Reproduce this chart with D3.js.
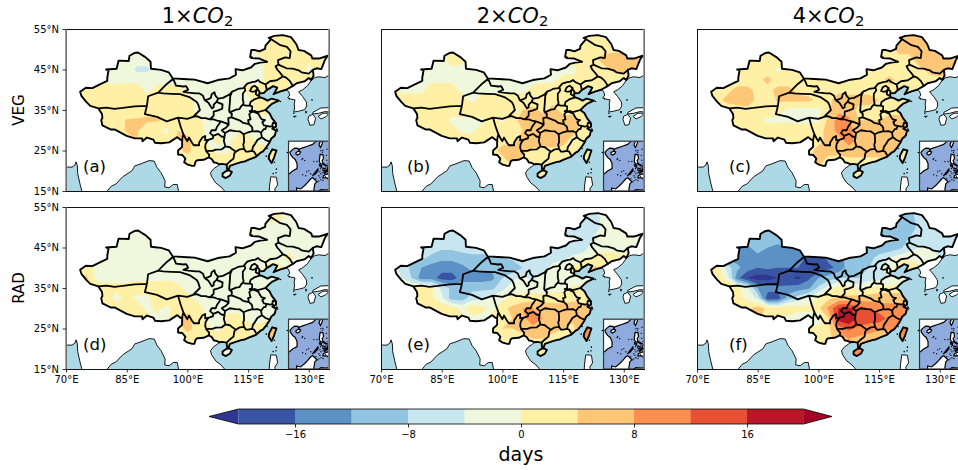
<!DOCTYPE html>
<html lang="en">
<head>
<meta charset="utf-8" />
<title>Growing season change, VEG and RAD</title>
<script src="https://d3js.org/d3.v7.min.js"></script>
<style>
  html, body { margin: 0; padding: 0; background: #fff; overflow: hidden; }
  svg { display: block; }
  text { font-family: "DejaVu Sans", sans-serif; fill: #000; }
  .tick text { font-size: 10px; }
  .tick line { stroke: #000; stroke-width: 0.8; }
</style>
</head>
<body>
<script>
// grid the fields were read on (degrees)
var gridLons = d3.range(26).map(function(i){ return 72.5 + i * 2.5; });
var gridLats = d3.range(16).map(function(i){ return 55 - i * 2.5; });

// days, one row per latitude from 55N down to 17.5N, west to east
var veg1 = [
[-1,-1,-1,-1,-1, -1,-1,-1,-1,-1, -1,-1,-1,-1,-1, -1,-1,-1,1,1, 1,1,1,1,1,1],
[-1,-1,-1,-1,-1, -1,-1,-1,-1,-1, -1,-1,-1,-1,-1, -1,-1,1,2,2, 2,2,2,2,2,2],
[-1,-1,-1,-1,-1, -1,-1,-1,-1,-1, -1,-1,-1,-1,-1, -1,-1,-1,1,2, 2,2,2,2,2,2],
[-1,-1,-1,-1,-1, -1,-2,-2,-2,-1, -1,-1,-1,-1,-1, -1,-1,1,-1,1, 2,1,2,1,2,2],
[-1,-1,-1,-1,-1, -1,-5,-5,-2,-1, -1,-1,-1,-1,-1, -1,-1,-1,-1,1, 2,2,2,-1,1,2],
[1,1,-1,-1,-1, -1,-1,-1,-1,-1, -1,-1,-1,-1,-1, -1,-1,-1,-1,1, 2,2,2,2,1,1],
[2,2,2,2,1, 2,2,-1,1,1, 1,-1,-1,-1,-1, -1,-1,1,1,2, 2,1,1,1,1,1],
[2,2,3,3,2, 1,1,1,2,2, 2,2,-1,-1,-1, -1,-1,-1,2,2, 1,1,1,1,1,1],
[2,2,2,2,2, 2,3,3,3,3, 2,2,-1,-1,-1, -1,-1,-1,1,1, 1,1,1,1,1,1],
[2,2,2,2,3, 4.2,4.2,4.5,4.5,3, 2,1,1,-1,-1, -1,-1,-1,-1,-1, -1,-1,-1,-1,-1,-1],
[2,2,2,2,2, 4.5,4.5,2,1,-1, 4,3,2,-1,-1, -1,-1,-1,-1,-1, -1,-1,-1,-1,-1,-1],
[2,2,2,2,2, 2,4,2,1,1, 4,5,2,-1,1, -1,2,2,-1,-1, 1,1,1,1,1,1],
[2,2,2,2,2, 2,2,2,2,2, 3,5,2,1,-1, -1,2,2,2,1, 1,1,1,1,1,1],
[2,2,2,2,2, 2,2,2,2,2, 2,2,2,2,2, 3,3,3,2,2, 2,2,2,2,2,2],
[-1,-1,-1,-1,-1, -1,-1,-1,-1,-1, -1,-1,-1,-1,-1, -1,-1,-1,-1,-1, -1,-1,-1,-1,-1,-1],
[-1,-1,-1,-1,-1, -1,-1,-1,-1,-1, -1,-1,-1,-1,-1, -1,-1,-1,-1,-1, -1,-1,-1,-1,-1,-1]
];
var veg2 = [
[-1,-1,-1,-1,-1, -1,-1,-1,-1,-1, -1,-1,-1,-1,-1, -1,-1,-1,2,2, 2,2,2,2,2,2],
[-1,-1,-1,-1,-1, -1,-1,-1,-1,-1, -1,-1,-1,-1,-1, -1,-1,1,2,3, 3,3,3,3,3,3],
[-1,-1,-1,-1,-1, -1,-1,-1,-1,-1, -1,-1,-1,-1,-1, -1,-1,-1,1,2, 3,3,3,3,3,3],
[-1,-1,-1,-1,-1, -1,2,1,-1,-1, -1,-1,-1,-1,-1, -1,-1,1,1,2, 3,5,6,6,5,3],
[-1,-1,-1,-1,-1, -1,-1,-1,-1,-1, -1,-1,-1,-1,-1, -1,-1,-1,-1,2, 3,3,4.5,4.5,4.5,3],
[1,1,-1,-1,-1, -1,-1,-1,-1,-1, -1,-1,-1,-1,-1, -1,-1,1,1,3, 3,3,3,3,3,3],
[2,-1,-1,-1,2, 2,2,-1,-1,-1, -1,-1,-1,-1,1, 2,2,3,3,3, 3,3,3,3,3,3],
[2,2,2,2,2, 2,2,2,-1,2, 2,2,2,2,2, 3,3,3,3,3, 3,3,3,3,3,3],
[2,2,2,2,2, 2,2,3,3,3, 3,3,2,4,5, 3,5,3,3,3, 3,3,3,3,3,3],
[2,2,2,2,2, 2,-1,-1,-1,-1, 3,-1,3,5,6, 6,6,5,5,3, 3,3,3,3,3,3],
[2,2,2,2,2, 2,2,-1,-1,2, 3,2,3,4,5, 6,6,4,5,3, 3,3,3,3,3,3],
[2,2,2,2,3, 3,3,3,2,2, 3,3,3,5,6, 6.5,6.5,5,3,3, 3,3,3,3,3,3],
[3,3,3,3,3, 3,3,3,3,3, 3,5,6,5,3, 3,3,3,3,3, 3,3,3,3,3,3],
[3,3,3,3,3, 3,3,3,3,3, 3,3,5,3,3, 3,3,3,3,3, 3,3,3,3,3,3],
[3,3,3,3,3, 3,3,3,3,3, 3,3,3,3,3, 3,3,3,3,3, 3,3,3,3,3,3],
[3,3,3,3,3, 3,3,3,3,3, 3,3,3,3,3, 3,3,3,3,3, 3,3,3,3,3,3]
];
var veg4 = [
[2,2,2,2,2, 2,2,2,2,2, 2,2,2,2,2, 2,2,2,4,4, 5,5,5,5,5,5],
[2,2,2,2,2, 2,2,2,2,2, 2,2,2,2,2, 2,2,2,4,5, 5,5,5,5,5,5],
[2,2,2,2,2, 2,2,2,2,2, 2,2,2,2,2, 2,2,2,3,5, 5,5,5,5,5,5],
[2,2,2,2,2, 2,2,2,2,2, 2,2,2,2,2, 2,2,2,3,3, 3,6,6,6,6,5],
[2,2,2,2,2, 2,2,-1,2,2, 2,2,2,2,2, 2,2,2,2,3, 3,3,5,6,5,3],
[2,2,2,2,2, 3,5,2,2,2, 2,2,2,2,2, 2,3,3,5,3, 3,3,3,3,3,3],
[2,3,3,5,5, 3,3,5,5,3, 2,3,4,3,3, 3,3,3,3,3, 3,3,3,3,3,3],
[3,3,5,6,6, 3,2,4.5,5,5, 5,3,3,6,5, 5,5,4,3,3, 3,3,3,3,3,3],
[2,2,2,2,3, 3,3,2,-1,-1, -1,-1,3,7,6, 3,3,3,3,3, 3,3,3,3,3,3],
[2,2,2,2,2, 1,-1,-1,-1,-1, -1,-1,5,10,9, 4,4,4,5,5, 5,5,5,5,5,5],
[2,2,2,2,3, 2,2,3,3,2, 2,3,5,10,9, 6,6,6,5,5, 5,5,5,5,5,5],
[2,2,2,2,2, 2,3,2,2,2, 3,3,5,6,10, 7,7,6,8,6, 5,5,5,5,5,5],
[3,3,3,3,3, 3,3,3,3,3, 3,5,5,5,6, 6,6,6,7,3, 3,3,3,3,3,3],
[3,3,3,3,3, 3,3,3,3,3, 3,5,3,3,3, 3,3,3,3,3, 3,3,3,3,3,3],
[3,3,3,3,3, 3,3,3,3,3, 3,3,3,3,3, 3,3,3,3,3, 3,3,3,3,3,3],
[3,3,3,3,3, 3,3,3,3,3, 3,3,3,3,3, 3,3,3,3,3, 3,3,3,3,3,3]
];
var rad1 = [
[-1,-1,-1,-1,-1, -1,-1,-1,-1,-1, -1,-1,-1,-1,-1, -1,-1,-1,-1,-1, -1,-1,-1,-1,-1,-1],
[-1,-1,-1,-1,-1, -1,-1,-1,-1,-1, -1,-1,-1,-1,-1, -1,-1,-1,-1,1, 1,-1,-1,-1,-1,-1],
[-1,-1,-1,-1,-1, -1,-1,-1,-1,-1, -1,-1,-1,-1,-1, -1,-1,-1,-1,-1, -1,-1,-1,-1,-1,-1],
[-1,-1,-1,-1,-1, -1,-1,-1,-1,-1, -1,-1,-1,-1,-1, -1,-1,-1,-1,-1, -1,-1,-1,-1,-1,-1],
[-1,-1,-1,-1,-1, -1,-2,-3,-5,-1, -1,-1,-1,-1,-1, -1,-1,-1,-1,-1, -1,-1,-1,-1,-1,-1],
[-1,-1,-1,-1,-1, -1,-1,-1,-1,-1, -1,-1,-1,-1,-1, -1,-1,-1,-1,-1, -1,1,-1,-1,-1,-1],
[1,2,-1,-1,-1, -1,-1,-1,-1,-1, -1,-1,-1,-1,-1, -1,-1,-1,-1,1, 1,-1,-1,-1,-1,-1],
[2,5,-1,-1,-1, -1,-1,-1,-1,-1, -1,-1,-1,-1,-1, -1,-1,-1,-1,-1, -1,-1,-1,-1,-1,-1],
[1,3,2,1,1, 1,3,2,2,3, 1,-1,-1,-1,-1, -1,-1,-1,-1,-1, -1,-1,-1,-1,-1,-1],
[1,2,2,1,-1, 1,-1,-1,2,2, 1,1,-1,-1,-1, -1,-1,-1,-1,-1, -1,-1,-1,-1,-1,-1],
[2,2,1,1,2, 3,3,-1,1,-1, 2,3,2,-1,-1, -1,-1,-1,-1,-1, -1,-1,-1,-1,-1,-1],
[2,2,2,2,2, 2,3,2,-1,-1, 4,5,2,-1,-1, 1,1,-1,-1,-1, -1,-1,-1,-1,-1,-1],
[2,2,2,2,2, 2,2,2,2,2, 2,5,3,1,-1, 1,2,2,1,5, 5,1,1,1,1,1],
[2,2,2,2,2, 2,2,2,2,2, 2,2,2,1,2, 2,2,2,2,6, 6,2,2,2,2,2],
[-1,-1,-1,-1,-1, -1,-1,-1,-1,-1, -1,-1,-1,-1,-1, -1,-1,-1,-1,-1, -1,-1,-1,-1,-1,-1],
[-1,-1,-1,-1,-1, -1,-1,-1,-1,-1, -1,-1,-1,-1,-1, -1,-1,-1,-1,-1, -1,-1,-1,-1,-1,-1]
];
var rad2 = [
[-6,-6,-6,-6,-6, -6,-6,-6,-6,-6, -6,-6,-6,-6,-6, -6,-6,-6,-6,-6, -2,-2,-2,-2,-2,-2],
[-6,-6,-6,-6,-6, -6,-6,-6,-6,-6, -6,-6,-6,-6,-6, -6,-6,-6,-7,-6, -6,-3,-2,-2,-2,-2],
[-6,-6,-6,-6,-6, -6,-6,-6,-6,-6, -6,-6,-6,-6,-6, -6,-6,-6,-7,-7, -6,-3,-2,-2,-2,-2],
[-6,-6,-6,-6,-6, -6,-6,-6,-6,-6, -6,-6,-6,-6,-6, -6,-7,-7,-7,-7, -4,-2,-2,-2,-2,-2],
[-6,-6,-6,-6,-6, -7,-7,-6,-6,-6, -6,-6,-6,-6,-6, -6,-6,-6,-7,-6, -2,-2,-2,-2,-2,-2],
[-6,-6,-6,-7,-9, -11,-11,-10,-9,-9, -9,-8,-7,-6,-6, -6,-5,-5,-3,-2, 1,2,2,1,1,1],
[-2,-5,-9,-12,-14, -14,-14,-13,-11,-11, -11,-11,-11,-8,-6, -5,-3,-1,1,4, 5,3,2,1,1,1],
[-1,-4,-8,-14,-14, -18,-18,-14,-14,-14, -13,-8,-5,-3,-5, -3,-1,-2,-2,-1, -1,-1,-1,-1,-1,-1],
[1,1,1,2,0.5, -5,-9,-9,-9,-9, -9,-5,-2,-1,-2, -2,-1,-1,0.5,0.5, 1,1,1,1,1,1],
[1,1,2,3,1, -3,-10,-10,-6,-5, -3,-1,1,1,2, 2,1,2,3,2, 2,2,2,2,2,2],
[3,3,3,3,2, 3,2,-1,3,1, -1,3,5,8,8, 7,7,6,6,6, 6,6,6,6,6,6],
[3,3,3,3,3, 3,1,1,-1,-1, 1,3,4,7,10, 8,7,7,5,4, 4,4,4,4,4,4],
[3,3,3,3,3, 3,3,3,3,3, 2,4,4,5,7, 7,5,4,3,9, 9,3,3,3,3,3],
[3,3,3,3,3, 3,3,3,3,3, 3,2,3,3,4, 4,3,3,3,9, 9,3,3,3,3,3],
[2,2,2,2,2, 2,2,2,2,2, 2,2,2,2,2, 2,2,2,2,2, 2,2,2,2,2,2],
[2,2,2,2,2, 2,2,2,2,2, 2,2,2,2,2, 2,2,2,2,2, 2,2,2,2,2,2]
];
var rad4 = [
[-10,-10,-10,-10,-10, -10,-10,-10,-10,-10, -10,-10,-10,-10,-10, -10,-10,-10,-10,-10, -8,-8,-8,-8,-8,-8],
[-10,-10,-10,-10,-10, -10,-10,-10,-10,-10, -10,-10,-10,-10,-10, -10,-10,-10,-10,-10, -9,-7,-6,-6,-6,-6],
[-10,-10,-10,-10,-10, -10,-10,-10,-10,-10, -10,-10,-10,-10,-10, -10,-10,-10,-11,-10, -10,-7,-6,-6,-6,-6],
[-10,-10,-10,-10,-10, -9,-8,-10,-10,-10, -10,-10,-10,-10,-10, -10,-10,-11,-11,-10, -8,-5,-7,-8,-8,-8],
[-12,-12,-12,-12,-13, -9,-12,-13,-12,-12, -11,-11,-11,-11,-11, -11,-10,-10,-11,-9, -6,-4,-4,-5,-5,-5],
[-10,-11,-12,-14,-14, -14,-16,-13,-14,-14, -17,-18,-15,-13,-11, -9,-9,-7,-4,-2, -1,-2,-4,-4,-4,-4],
[-1,2,-6,-11,-14, -16,-15,-16,-16,-16, -20,-20,-17,-15,-10, -9,-8,-5,-2,3, 3,1,-1,-1,-1,-1],
[3,3,-2,-15,-20, -22,-22,-20,-19,-21, -17,-12,-10,-8,-8, -8,-6,-6,-4,-2, -2,-2,-2,-2,-2,-2],
[3,6,6,1,-3, -12,-14,-15,-15,-14, -13,-7,-2,2,1, -1,0.5,2,1,1, 1,1,1,1,1,1],
[3,3,4,2,-1, -5,-19,-18,-10,-6, -3,0.5,3,5,5, 6,6,6,7,7, 7,7,7,7,7,7],
[3,3,3,3,3, 6,3,1,3,2, 1,3,9,16,17, 13,12,10,9,9, 9,9,9,9,9,9],
[3,3,3,3,5, 5,2,1,-1,-3, -2,-4,4,18,20, 15,14,14,11,8, 8,8,8,8,8,8],
[3,3,3,3,3, 3,3,3,3,3, 0.5,2,3,10,13, 11,10,9,9,11, 11,9,9,9,9,9],
[3,3,3,3,3, 3,3,3,3,3, 3,2,3,6,8, 7,6,5,4,11, 11,4,4,4,4,4],
[8,8,8,8,8, 8,8,8,8,8, 8,8,8,8,8, 9,8,8,8,8, 8,8,8,8,8,8],
[8,8,8,8,8, 8,8,8,8,8, 8,8,8,8,8, 9,8,8,8,8, 8,8,8,8,8,8]
];

var panelFields = [veg1, veg2, veg4, rad1, rad2, rad4];
var panelTags = ["(a)", "(b)", "(c)", "(d)", "(e)", "(f)"];
var columnMultiples = ["1", "2", "4"];
var rowNames = ["VEG", "RAD"];

var levels = [-20, -16, -12, -8, -4, 0, 4, 8, 12, 16, 20];
var bandColors = ["#313695", "#3a54a4", "#5b91c4", "#91c4e0", "#c7e6f0", "#eff8dc",
                  "#fff0a6", "#fec777", "#fc8f50", "#e85034", "#bb1627", "#a50026"];
var colorbarTicks = [-16, -8, 0, 8, 16];
var lonTicks = [70, 85, 100, 115, 130];
var latTicks = [15, 25, 35, 45, 55];

// china land border, Dandong clockwise round to Dongxing
var chinaBorder = [[124.4,40],[126,40.9],[127,41.6],[128.1,41.9],[129,42.1],[130,42.9],[130.6,42.4],[131.2,43.5],[131,44.9],[131.9,45.3],[133.1,45.1],[134,47.4],[134.7,48.4],[132.5,47.7],[130.9,47.7],[130.6,48.5],[128.8,49.6],[127.5,49.8],[126.9,51.3],[125.6,53],[123.6,53.5],[121.5,53.3],[120.1,52.8],[120.7,52.5],[119.3,50.9],[119.2,50.1],[117.8,49.5],[116.7,49.8],[115.8,49.8],[115.5,48.1],[116,48],[115.8,47.8],[117.8,47.7],[119.7,46.9],[118,46.7],[116.7,46.4],[115.7,45.5],[113.6,44.8],[111.9,45.1],[112,43.7],[110.4,42.8],[107.5,42.4],[105,41.6],[101.8,42.5],[100,42.6],[96.4,42.8],[95.4,44.3],[93.5,44.9],[91,45.2],[90.9,46.9],[89.7,48],[87.8,49.2],[87,49.1],[85.7,48.4],[85.5,47.1],[83,47.2],[82.5,45.2],[79.9,45],[80.5,44.7],[80.2,43],[80.2,42.2],[78.5,41.4],[76.5,40.4],[74.9,40.5],[73.5,39.5],[73.8,38.5],[75,37],[76,36],[78,35.4],[78.9,34],[79,33],[78.7,32.5],[79,31.2],[81,30.2],[82,30.2],[85,28.6],[87,28],[88.8,28],[88.9,27.3],[90,28.2],[91.6,27.7],[92,26.9],[93.5,26.8],[95.5,27],[97.5,28.3],[98.2,27.7],[98.7,27.5],[98.7,25.9],[97.7,25],[97.7,24],[98.7,23.9],[99.5,23],[99.2,22.1],[100.1,21.5],[101.2,21.2],[101.7,21.2],[102.1,22.4],[102.5,22.6],[104,22.7],[105.3,23.3],[106,22.9],[106.6,22],[107,22],[108,21.6]];
// china coast, Dongxing north to Dandong
var chinaCoast = [[108,21.6],[108.6,21.7],[109.7,21.5],[109.8,20.4],[110.2,20.3],[110.5,21.2],[111.9,21.7],[113.5,22.2],[114.2,22.3],[115.3,22.8],[116.9,23.4],[118,24.4],[118.7,24.8],[119.6,25.9],[120.3,27],[120.7,27.9],[121.6,28.7],[121.9,29.9],[121,30.4],[121.9,30.9],[121.9,31.7],[120.9,33],[120.3,34.2],[119.3,35],[120.3,36],[121,36.6],[122.6,37.3],[120.8,37.8],[119.8,37.3],[118.9,37.8],[118,38.1],[117.7,38.5],[117.8,39.1],[118.9,39.2],[119.6,39.9],[121.2,40.9],[122.2,40.5],[121.7,39.5],[121.3,38.9],[123,39.6],[124.4,40]];
var taiwan = [[121,25.3],[122,25],[121.4,23.2],[120.8,21.9],[120.1,23],[120.2,23.8],[121,25.3]];
var hainan = [[110.3,20.1],[111,19.7],[110.5,18.8],[109.5,18.2],[108.7,18.6],[108.7,19.3],[109.5,19.9],[110.3,20.1]];

// rest of the mainland, from the Indian west coast round to the Korean coast
var coastToChina = [[68,24],[69,22.3],[70.3,20.9],[71.5,20.9],[72.2,21.4],[72.5,22.2],[72.8,21.2],[72.9,19.3],[73.4,17],[73.9,15],[73.9,14],[80,14],[80.2,15],[81.2,16.2],[82.3,16.7],[84,18.5],[86.3,20],[87,21.2],[88.5,21.7],[90.5,22.5],[91.8,22.4],[92.5,20.8],[93.5,19.5],[94.5,17.5],[94.4,16],[95.5,15.8],[96.5,16.6],[97.5,16.6],[97.8,15],[98,14],[109.3,14],[109.2,15],[108.3,16],[107,17],[106,18.5],[105.7,19.5],[106.5,20.5],[107.5,21.2]];
var coastFromChina = [[125,39.6],[125.3,38.7],[124.8,38],[125.5,37.7],[126.6,37.5],[126.4,36.5],[126.5,35.5],[126.3,34.5],[127.5,34.7],[129,35.1],[129.5,36],[129.4,37],[128.5,38.3],[127.5,39.5],[128.5,40],[129.7,41],[130.6,42.3],[131.5,43],[132.5,43.2],[134,43],[135,43.6],[136,44.5],[136,56],[68,56]];
var otherIslands = [
  [[136,35.6],[133,35.5],[131,34.4],[131,34],[132.5,34.2],[134,34.6],[136,34.4]],
  [[130,33.5],[131,33.9],[131.7,33],[131.3,31.4],[130.3,31.2],[129.8,32.7]],
  [[132.3,33.4],[133.5,34.2],[135,34.2],[134.2,33.3],[133,32.8]],
  [[120.6,18.5],[122,18.4],[122.3,16.5],[121.6,15.5],[121.9,14],[120.2,14],[120.3,16.2]],
  [[126.2,33.4],[126.9,33.5],[126.6,33.2]],
  [[129.2,34.7],[129.5,34.6],[129.3,34.2]]
];
var smallIslands = [[122.2,30.1],[122.3,29.8],[122.1,30.3],[121.3,28.3],[119.7,25.5],[119.5,23.6],[121.5,22.1],[122,20.4],[121.9,19.5],[121.2,19.3],[124.7,24.5],[128,26.6],[123,37.1],[125.2,37.8],[126.3,34.2],[130.8,37.5]];

// internal province boundaries
var provinceLines = [
  [[78,35.4],[80,35.6],[82,35.3],[84,35.5],[87,35.9],[90,36]],
  [[90,36],[90.3,38.4],[92.8,39.3],[94,39.1],[96,39],[98.2,38.9],[100.5,38.2],[102.3,37],[102.7,36.3],[103.1,35],[101.4,33.3]],
  [[92.8,39.3],[94,40.5],[95,41.5],[96.5,42.7]],
  [[90,36],[89.5,34],[92.5,33.3],[94.9,32.2],[97.7,33.1]],
  [[97.7,33.1],[98.3,31],[99,29],[98.8,28.2],[98.7,27.5]],
  [[97.7,33.1],[100,32.8],[101.4,33.3],[102.3,33.5],[103.5,33],[104.5,33],[105.5,32.7]],
  [[96.5,42.7],[97.2,41],[99,40.8],[99.7,40.9],[100.2,40],[99,39.5],[100.3,39.3],[102,39.1],[103,39.1],[103.8,38.6],[104.3,37.4]],
  [[104.3,37.4],[105,37.6],[105.8,38],[106,38.9],[106.7,39.4],[106.9,38.6],[107.3,38.1],[107.6,37.8],[107.2,37],[106.5,36.3],[106.5,35.7],[106.1,35.4],[105.7,36],[105.2,36.8],[104.3,37.4]],
  [[107.2,37],[108.7,36.4],[108.6,35.3],[107.6,34.9],[106.5,34.6],[106.5,33.6],[105.8,32.9],[105.5,32.7]],
  [[107.6,37.8],[108.8,38],[110.5,38.9],[111.1,39.6]],
  [[111.1,39.6],[110.6,38.5],[110.5,37],[110.4,35.7],[110.3,34.6]],
  [[111.1,39.6],[111.5,39.7],[112.5,40.2],[113.8,40.4],[114.1,40.7]],
  [[114.1,40.7],[114.3,39.8],[113.7,39],[113.7,37.5],[113.9,36.8],[113.7,36.3]],
  [[113.7,36.3],[113.2,35.8],[112.9,35.2],[112,35.1],[110.9,34.6],[110.3,34.6]],
  [[114.1,40.7],[114.8,41.5],[116,41.9],[116.8,42],[117.5,42.4],[118,41.9],[119.3,41.3]],
  [[119.3,41.3],[119.5,40.6],[119.6,39.9]],
  [[119.3,41.3],[120.4,42.1],[122,42.3],[122.7,42.7],[123.6,43.3]],
  [[123.6,43.3],[124.4,43],[125.3,42.2],[125.9,41.2],[126,40.9]],
  [[123.6,43.3],[122.9,44.2],[122.2,45],[121.8,45.8],[122.5,46.2]],
  [[122.5,46.2],[124.5,45.3],[126,45.2],[127.5,44.8],[128.2,44.3],[130,44],[131,44.9]],
  [[122.5,46.2],[122.4,47.3],[124.2,48],[125.3,47.8],[125.5,49.5],[124.6,50.6],[123,51],[121,52.3],[120.7,52.5]],
  [[116,39.5],[115.5,39.7],[115.9,40.6],[116.6,41],[117.4,40.4],[117,39.9],[116.7,39.6],[116,39.5]],
  [[117.2,40.2],[117.8,39.6],[117.8,39.1]],
  [[117.7,38.5],[117.4,38.6],[116.9,38.9],[117,39.5],[117.2,40.2]],
  [[118,38.1],[116.5,37.6],[115.6,37],[115.4,36.1],[114.4,36.1],[113.7,36.3]],
  [[115.4,36.1],[116,35.9],[116,34.9],[115.4,34.7],[116.4,34.6]],
  [[119.3,35],[118.3,34.7],[117.4,34.5],[116.5,34.8],[116.4,34.6]],
  [[116.4,34.6],[115.6,34.4],[115.3,33.9],[115.6,32.7],[115,32.5],[115.2,31.5]],
  [[116.4,34.6],[117.6,34],[118,33.2],[118.4,32.7],[119.2,32.5],[118.5,32],[118.9,31.2],[119.6,31.1]],
  [[121.9,31.7],[121.1,31.8],[121,31],[121.3,30.7],[121,30.4]],
  [[119.6,31.1],[120.4,30.9],[121,31]],
  [[119.6,31.1],[119.3,30.3],[118.9,30.3],[118.2,29.4]],
  [[118.2,29.4],[117.4,29.8],[116.6,29.7],[116.1,29.8]],
  [[116.1,29.8],[116,30.7],[115.8,31],[115.2,31.5]],
  [[118.2,29.4],[118.4,28.3]],
  [[118.4,28.3],[119.3,27.6],[120.3,27.2]],
  [[118.4,28.3],[117.3,27.6],[116.7,26.6],[116.2,25.9],[116,25],[115.9,24.9]],
  [[115.9,24.9],[116.5,24.7],[116.9,24],[117.2,23.6]],
  [[115.9,24.9],[115,24.7],[114.5,24.7],[114,25.4]],
  [[114,25.4],[113.8,26.5],[114,27],[114,28],[113.9,29]],
  [[113.9,29],[115,29.5],[116.1,29.8]],
  [[114,25.4],[113,25.3],[112.3,24.9],[112,24.7]],
  [[112,24.7],[111.4,25.1],[110.5,25.8],[109.4,26]],
  [[112,24.7],[111.6,24.3],[111.4,23],[110.5,22.3],[109.7,21.5]],
  [[109.4,26],[108.5,25.3],[107,25.2],[106.2,24.9],[105,24.9],[104.7,24.7]],
  [[104.7,24.7],[105.4,24],[105.3,23.3]],
  [[104.7,24.7],[104.4,25.7],[104.5,26.6],[105,27.4],[105.3,27.7]],
  [[105.3,27.7],[106.3,28],[106.4,28.6]],
  [[106.4,28.6],[107.6,29.1],[108.5,28.4],[109.2,28.4]],
  [[109.2,28.4],[109.3,29.3]],
  [[109.2,28.4],[109,27.4],[109.4,26]],
  [[109.3,29.3],[108.5,30],[109.5,30.6],[110.2,31.3],[109.6,31.7]],
  [[109.3,29.3],[110.5,30],[111.9,29.8],[113,29.7],[113.9,29]],
  [[106.4,28.6],[105.6,29.3],[106,30],[107,30],[107.3,30.8],[108.3,32.2]],
  [[108.3,32.2],[109.6,31.7]],
  [[99,29],[99.5,28.1],[100,27.3],[100.4,28.2],[101.1,27],[101.6,26.3],[102.9,26.3],[102.9,27],[103.7,28.2],[104.4,28.6],[104.4,27.5],[105.3,27.7]],
  [[105.5,32.7],[106.5,32.7],[107.3,32.4],[108.3,32.2]],
  [[109.6,31.7],[110.2,31.6],[110.1,33],[110.9,33.2]],
  [[110.9,33.2],[111.9,32.8],[113,32.4],[113.8,31.8],[115.2,31.5]],
  [[110.9,33.2],[111,34],[110.3,34.6]]
];

// south china sea inset, its own lon/lat window
var insetExtent = {lon: [105, 125], lat: [25, 0.5]};
var insetLands = [
  [[100,30],[100,8],[104,8.8],[105.5,9],[107,10.3],[109.2,11.5],[109.2,14],[108.3,16],[107,17],[106,18.5],[105.7,19.5],[106.5,20.5],[108,21.6],[109.7,21.5],[110.2,20.3],[110.5,21.2],[111.9,21.7],[114,22.4],[116.9,23.4],[118,24.4],[119.6,25.9],[121,28],[121,30]],
  [[110.3,20.1],[111,19.7],[110.5,18.8],[109.5,18.2],[108.7,18.6],[108.7,19.3],[109.5,19.9]],
  [[121,25.3],[122,25],[121.4,23.2],[120.8,21.9],[120.1,23],[120.2,23.8]],
  [[120.6,18.5],[122,18.4],[122.3,16.5],[121.6,15.5],[122,14.2],[124,13],[123.5,12.8],[122,13.8],[120.9,13.8],[120.2,14.8],[120.3,16.2]],
  [[120.3,13.4],[121.4,13],[121.2,12.2],[120.5,12.6]],
  [[117.2,8.4],[119.5,11.3],[119.6,10.6],[118,8.6]],
  [[122,11.8],[123.1,11.5],[122.7,10.5],[122,10.6]],
  [[123,10.9],[123.5,9.8],[122.8,9.2],[122.5,9.9]],
  [[124,11.2],[124.2,10.2],[123.5,9.6]],
  [[124.5,12.4],[125.8,12.2],[125.5,11],[124.6,10.2],[124.3,11.2]],
  [[126,9.8],[126.6,7.5],[126,6],[125,6],[124,7],[122,7],[122.2,8],[123.5,8.6],[125,9]],
  [[100,0],[109,0],[109,2],[111,1.5],[113,3.2],[114.5,4.7],[116,6.5],[117,7],[119,5],[118,4],[117.5,1],[118,0],[118,-2],[100,-2]],
  [[120,-2],[125,-2],[125,1.4],[124,1],[121,1.2],[120,0.5]],
  [[127,-1],[128.5,2],[127.5,2],[126,1]]
];
var insetShoals = [[112,16.5],[111.7,16],[113,15.5],[114,10],[115,10.5],[112,8.5],[113.5,8],[116,9],[117,8],[120,8],[121,6],[120,5.5],[119.5,5],[122,5.7],[117.5,15],[119,15],[121,20.3],[121.8,19.5],[122,20.4],[124,21],[123.7,18],[120.5,10],[121,9],[122,9.5],[120.8,11.5],[123.5,11.8],[124.2,9],[123.2,7.5],[120.5,7.2],[118.5,6.5],[124.5,14],[123.9,15.6]];

var w = 958, h = 470;
var panelW = 263, panelH = 162;
var colX = [66, 381, 697], rowY = [29, 207];
var tagLons = [74.2, 76.4, 77.9];

var svg = d3.select("body").append("svg").attr("width", w).attr("height", h);

var outlineRing = chinaBorder.concat(chinaCoast.slice(1));
var landRing = coastToChina.concat(chinaCoast, coastFromChina);
var contours = d3.contours().size([gridLons.length, gridLats.length]).thresholds([-999].concat(levels));

function polygon(rings){
  return {type: "MultiPolygon", coordinates: rings.map(function(r){
    var c = r.slice();
    if (c[0][0] != c[c.length-1][0] || c[0][1] != c[c.length-1][1]) c.push(c[0]);
    return [c];
  })};
}

panelFields.forEach(function(field, idx){
  var col = idx % 3, row = Math.floor(idx / 3);
  var x = d3.scaleLinear().domain([70, 135]).range([colX[col], colX[col] + panelW]);
  var y = d3.scaleLinear().domain([15, 55]).range([rowY[row] + panelH, rowY[row]]);
  var geo = d3.geoPath().projection(d3.geoTransform({point: function(lon, lat){
    this.stream.point(x(lon), y(lat));
  }}));
  // contours come back in grid index space, cell centres at +0.5
  var gridPath = d3.geoPath().projection(d3.geoTransform({point: function(i, j){
    this.stream.point(x(gridLons[0] + (i - 0.5) * 2.5), y(gridLats[0] - (j - 0.5) * 2.5));
  }}));

  svg.append("clipPath").attr("id", "panel" + idx).append("rect")
    .attr("x", colX[col]).attr("y", rowY[row]).attr("width", panelW).attr("height", panelH);
  svg.append("clipPath").attr("id", "china" + idx).append("path")
    .attr("d", geo(polygon([outlineRing, taiwan, hainan])));

  var g = svg.append("g").attr("clip-path", "url(#panel" + idx + ")");
  g.append("rect").attr("x", colX[col]).attr("y", rowY[row])
    .attr("width", panelW).attr("height", panelH).attr("fill", "#add8e6");
  g.append("path").attr("d", geo(polygon([landRing].concat(otherIslands))))
    .attr("fill", "#fff").attr("stroke", "#000").attr("stroke-width", 0.9);
  g.selectAll("circle.isle").data(smallIslands).enter().append("circle").attr("class", "isle")
    .attr("cx", function(d){ return x(d[0]); }).attr("cy", function(d){ return y(d[1]); })
    .attr("r", 0.8).attr("fill", "#000");

  var flat = d3.merge(field);
  g.append("g").attr("clip-path", "url(#china" + idx + ")")
    .selectAll("path").data(contours(flat)).enter().append("path")
    .attr("d", gridPath)
    .attr("fill", function(d, i){ return bandColors[i]; });

  g.append("path").attr("d", geo({type: "MultiLineString", coordinates: provinceLines}))
    .attr("fill", "none").attr("stroke", "#000").attr("stroke-width", 1.8).attr("stroke-linejoin", "round");
  g.append("path").attr("d", geo(polygon([outlineRing, taiwan, hainan])))
    .attr("fill", "none").attr("stroke", "#000").attr("stroke-width", 1.9).attr("stroke-linejoin", "round");

  g.append("text").attr("x", x(tagLons[col])).attr("y", y(21)).attr("dy", "0.35em")
    .attr("font-size", "16.5px").attr("fill", "#222").text(panelTags[idx]);

  // inset
  var ix0 = x(125), iy0 = y(27.3), ix1 = x(135), iy1 = y(15);
  var ix = d3.scaleLinear().domain(insetExtent.lon).range([ix0, ix1]);
  var iy = d3.scaleLinear().domain(insetExtent.lat).range([iy0, iy1]);
  var insetGeo = d3.geoPath().projection(d3.geoTransform({point: function(lon, lat){
    this.stream.point(ix(lon), iy(lat));
  }}));
  svg.append("clipPath").attr("id", "inset" + idx).append("rect")
    .attr("x", ix0).attr("y", iy0).attr("width", ix1 - ix0).attr("height", iy1 - iy0);
  var ig = g.append("g").attr("clip-path", "url(#inset" + idx + ")");
  ig.append("rect").attr("x", ix0).attr("y", iy0).attr("width", ix1 - ix0).attr("height", iy1 - iy0)
    .attr("fill", "#8fabdd");
  ig.append("path").attr("d", insetGeo(polygon(insetLands)))
    .attr("fill", "#fff").attr("stroke", "#000").attr("stroke-width", 1.2);
  ig.selectAll("circle").data(insetShoals).enter().append("circle")
    .attr("cx", function(d){ return ix(d[0]); }).attr("cy", function(d){ return iy(d[1]); })
    .attr("r", 0.7).attr("fill", "#111");
  g.append("rect").attr("x", ix0).attr("y", iy0).attr("width", ix1 - ix0).attr("height", iy1 - iy0)
    .attr("fill", "none").attr("stroke", "#333").attr("stroke-width", 1.2);

  // frame and axes
  svg.append("rect").attr("x", colX[col]).attr("y", rowY[row]).attr("width", panelW).attr("height", panelH)
    .attr("fill", "none").attr("stroke", "#111").attr("stroke-width", 1).attr("shape-rendering", "crispEdges");
  if (col == 0) {
    svg.append("line").attr("x1", colX[col]).attr("x2", colX[col]).attr("y1", rowY[row]).attr("y2", rowY[row] + panelH)
      .attr("stroke", "#8a8a8a").attr("stroke-width", 1.6);
  }
  if (col < 2) {
    svg.append("line").attr("x1", colX[col] + panelW).attr("x2", colX[col] + panelW).attr("y1", rowY[row]).attr("y2", rowY[row] + panelH)
      .attr("stroke", "#8a8a8a").attr("stroke-width", 1.6);
  }

  if (row == 1) {
    var xAxis = svg.append("g").attr("transform", "translate(0," + (rowY[row] + panelH) + ")")
      .call(d3.axisBottom(x).tickValues(lonTicks).tickSize(3.5).tickPadding(3.5).tickFormat(function(d){ return d + "°E"; }));
    xAxis.select(".domain").remove();
  }
  if (col == 0) {
    var yAxis = svg.append("g").attr("transform", "translate(" + colX[col] + ",0)")
      .call(d3.axisLeft(y).tickValues(latTicks).tickSize(3.5).tickPadding(3.5).tickFormat(function(d){ return d + "°N"; }));
    yAxis.select(".domain").remove();
  }
});

// column titles, mathtext style
columnMultiples.forEach(function(m, i){
  var t = svg.append("text").attr("x", colX[i] + panelW / 2).attr("y", 23)
    .attr("text-anchor", "middle").attr("font-size", "21px");
  t.append("tspan").text(m + "×");
  t.append("tspan").attr("font-style", "italic").text("CO");
  t.append("tspan").attr("font-size", "14.7px").attr("dy", "3").text("2");
});

rowNames.forEach(function(name, i){
  svg.append("text")
    .attr("transform", "translate(24," + (rowY[i] + panelH / 2) + ") rotate(-90)")
    .attr("text-anchor", "middle").attr("font-size", "15px").text(name);
});

// colorbar
var cb = d3.scaleLinear().domain([-20, 20]).range([238.5, 803.5]);
var cbTop = 409, cbBot = 424;
d3.pairs(levels).forEach(function(p, i){
  svg.append("rect").attr("x", cb(p[0])).attr("y", cbTop)
    .attr("width", cb(p[1]) - cb(p[0]) + 0.3).attr("height", cbBot - cbTop)
    .attr("fill", bandColors[i + 1]);
});
svg.append("path").attr("fill", bandColors[0])
  .attr("d", d3.line()([[cb(-20), cbTop], [209, (cbTop + cbBot) / 2], [cb(-20), cbBot]]) + "Z");
svg.append("path").attr("fill", bandColors[11])
  .attr("d", d3.line()([[cb(20), cbTop], [832, (cbTop + cbBot) / 2], [cb(20), cbBot]]) + "Z");
svg.append("path").attr("fill", "none").attr("stroke", "#000").attr("stroke-width", 0.8)
  .attr("d", d3.line()([[cb(-20), cbTop], [209, (cbTop + cbBot) / 2], [cb(-20), cbBot], [cb(20), cbBot], [832, (cbTop + cbBot) / 2], [cb(20), cbTop]]) + "Z");
var cbAxis = svg.append("g").attr("transform", "translate(0," + cbBot + ")")
  .call(d3.axisBottom(cb).tickValues(colorbarTicks).tickSize(3.5).tickPadding(3.5)
    .tickFormat(function(d){ return d < 0 ? "−" + (-d) : d; }));
cbAxis.select(".domain").remove();
svg.append("text").attr("x", cb(0)).attr("y", 461).attr("text-anchor", "middle")
  .attr("font-size", "19px").text("days");
</script>
</body>
</html>
